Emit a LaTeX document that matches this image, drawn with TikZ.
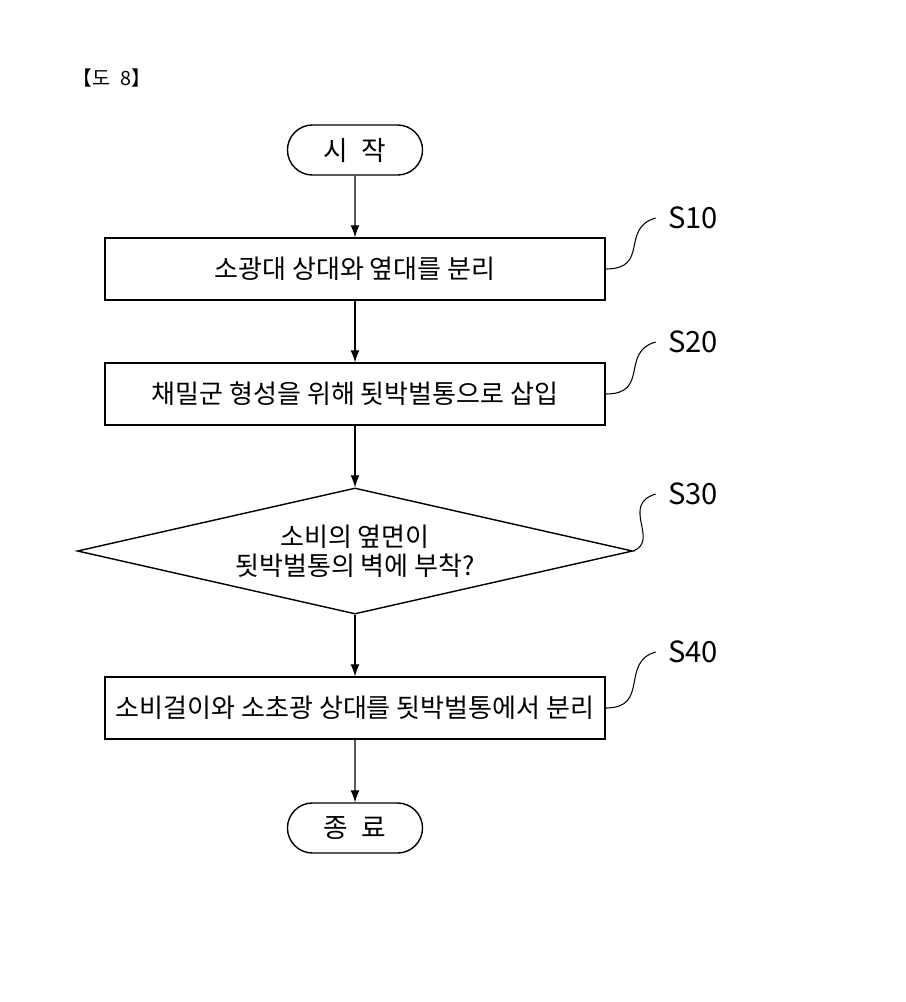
\documentclass[tikz,border=0pt]{standalone}
\usepackage{fontspec}
\setmainfont{Noto Sans CJK KR}
\usetikzlibrary{shapes,arrows,arrows.meta,positioning}
\begin{document}
\begin{tikzpicture}[x=0.01cm,y=-0.01cm]
	\tikzstyle{Term}	= [draw, rounded rectangle, minimum width=1.35cm, minimum height=0.5cm, inner sep=0pt, font=\fontsize{7.6}{8}\selectfont]
	\tikzstyle{Step}	= [draw, rectangle, minimum width=5cm, minimum height=0.62cm, inner sep=0pt, font=\fontsize{7.4}{8}\selectfont]
	\tikzstyle{Test}	= [draw, diamond, aspect=4.4, minimum width=5.55cm, minimum height=1.26cm, inner sep=0pt, align=center, font=\fontsize{7.4}{8.2}\selectfont]
	\tikzstyle{Tag}		= [font=\fontsize{8.3}{9}\selectfont]
	\tikzstyle{Flow}	= [-{Latex[length=1.2mm,width=0.9mm]}, line width=0.3pt]
	\tikzstyle{Lead}	= [line width=0.3pt]
	\useasboundingbox (0,0) rectangle (905,1002);

	\node (hd) at (112,78) [font=\fontsize{5.6}{6}\selectfont] {【도\enspace 8】};
	\node (st) at (355,150) [Term] {시\enspace 작};
	\node (s10) at (355,269) [Step] {소광대 상대와 옆대를 분리};
	\node (s20) at (355,394) [Step] {채밀군 형성을 위해 됫박벌통으로 삽입};
	\node (s30) at (355,551) [Test] {소비의 옆면이\\됫박벌통의 벽에 부착?};
	\node (s40) at (355,708) [Step] {소비걸이와 소초광 상대를 됫박벌통에서 분리};
	\node (en) at (355,828) [Term] {종\enspace 료};

	\node (t10) at (693,218) [Tag] {S10};
	\node (t20) at (693,342) [Tag] {S20};
	\node (t30) at (693,494) [Tag] {S30};
	\node (t40) at (693,652) [Tag] {S40};

	\draw [Flow] (st) to (s10);
	\draw [Flow] (s10) to (s20);
	\draw [Flow] (s20) to (s30);
	\draw [Flow] (s30) to (s40);
	\draw [Flow] (s40) to (en);

	\draw [Lead] (s10.east) .. controls (650,269) and (620,228) .. (t10.west);
	\draw [Lead] (s20.east) .. controls (650,394) and (620,352) .. (t20.west);
	\draw [Lead] (s30.east) .. controls (660,540) and (620,505) .. (t30.west);
	\draw [Lead] (s40.east) .. controls (650,708) and (620,662) .. (t40.west);
\end{tikzpicture}
\end{document}
